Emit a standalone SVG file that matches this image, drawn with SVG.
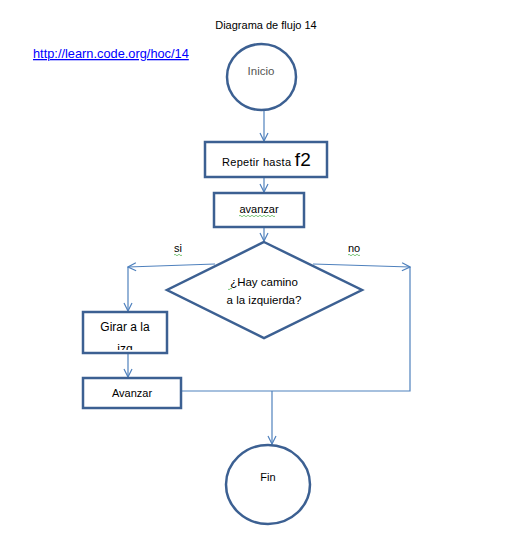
<svg xmlns="http://www.w3.org/2000/svg" width="532" height="549" viewBox="0 0 532 549">
<style>
.shape{fill:#fff;stroke:#3c6092;stroke-width:2.5}
.conn{fill:none;stroke:#4f81bd;stroke-width:1.2}
text{font-family:"Liberation Sans",Arial,sans-serif;font-size:11px;fill:#000}
.c{text-anchor:middle}
.wavy{fill:none;stroke:#5cb85c;stroke-width:0.8}
</style>
<defs>
<marker id="arr" viewBox="0 0 10 10" refX="9" refY="5" markerWidth="10" markerHeight="10" markerUnits="userSpaceOnUse" orient="auto">
<path d="M1,1 L9,5 L1,9" fill="none" stroke="#4f81bd" stroke-width="1.2"/>
</marker>
<clipPath id="girarClip"><rect x="83" y="312" width="84" height="38"/></clipPath>
</defs>
<rect width="532" height="549" fill="#fff"/>
<text id="title" class="c" x="266" y="29">Diagrama de flujo 14</text>
<text id="link" x="33" y="58" style="fill:#0000ff;text-decoration:underline;font-size:12.8px">http://learn.code.org/hoc/14</text>
<g id="connectors">
<line class="conn" x1="264" y1="111" x2="264" y2="141" marker-end="url(#arr)"/>
<line class="conn" x1="264" y1="178" x2="264" y2="192" marker-end="url(#arr)"/>
<line class="conn" x1="264" y1="228" x2="264" y2="241" marker-end="url(#arr)"/>
<line class="conn" x1="215" y1="264" x2="128" y2="267" marker-end="url(#arr)"/>
<line class="conn" x1="128" y1="267" x2="128" y2="311" marker-end="url(#arr)"/>
<line class="conn" x1="313" y1="264" x2="410" y2="267" marker-end="url(#arr)"/>
<polyline class="conn" points="410,267 410,391 182,391"/>
<line class="conn" x1="128" y1="354" x2="128" y2="377" marker-end="url(#arr)"/>
<line class="conn" x1="272" y1="391" x2="272" y2="444" marker-end="url(#arr)"/>
</g>
<g id="inicio">
<ellipse class="shape" cx="261.5" cy="77" rx="34.5" ry="33"/>
<text class="c" x="261" y="75" style="fill:#555;font-size:11.5px">Inicio</text>
</g>
<g id="repetir">
<rect class="shape" x="205" y="142" width="122" height="35"/>
<text x="222" y="166" style="letter-spacing:0.3px">Repetir hasta <tspan style="font-size:19px">f2</tspan></text>
</g>
<g id="avanzar1">
<rect class="shape" x="214" y="193" width="90" height="34"/>
<text class="c" x="259" y="213">avanzar</text>
<path class="wavy" d="M239,216 q1,-1.5 2,0 t2,0 t2,0 t2,0 t2,0 t2,0 t2,0 t2,0 t2,0 t2,0 t2,0 t2,0 t2,0 t2,0 t2,0 t2,0 t2,0 t2,0"/>
</g>
<g id="decision">
<polygon class="shape" points="264,242 362,290 264,338 167,290"/>
<text class="c" x="264" y="286" style="font-size:11.5px">¿Hay camino</text>
<text class="c" x="264" y="304" style="font-size:11.5px">a la izquierda?</text>
<path class="wavy" d="M228,289 q1,1.5 2,0 t2,0"/>
</g>
<g id="label-si">
<text x="174" y="252">si</text>
<path class="wavy" d="M174,255 q1,-1.5 2,0 t2,0 t2,0 t2,0"/>
</g>
<g id="label-no">
<text x="348" y="252">no</text>
<path class="wavy" d="M348,255 q1,-1.5 2,0 t2,0 t2,0 t2,0 t2,0 t2,0"/>
</g>
<g id="girar">
<rect class="shape" x="83" y="312" width="84" height="41"/>
<text class="c" x="125" y="331" style="font-size:12px">Girar  a la</text>
<text class="c" x="125" y="353" clip-path="url(#girarClip)" style="font-size:12px">izq</text>
</g>
<g id="avanzar2">
<rect class="shape" x="83" y="378" width="98" height="30"/>
<text class="c" x="132" y="397">Avanzar</text>
</g>
<g id="fin">
<ellipse class="shape" cx="268" cy="484.5" rx="42" ry="39.5"/>
<text class="c" x="268" y="481">Fin</text>
</g>
</svg>
